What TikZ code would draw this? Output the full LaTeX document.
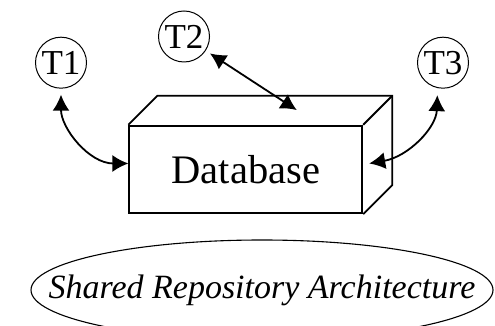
\documentclass[tikz,border=0pt]{standalone}
\usepackage{fontspec}
\setmainfont{Liberation Serif}
\usetikzlibrary{arrows.meta}
\usetikzlibrary{shapes.geometric}

\tikzset{
  term/.style={circle,draw,line width=1pt,minimum size=51pt,inner sep=0pt,
    font=\fontsize{35}{42}\selectfont},
  link/.style={line width=1.8pt,{Latex[length=16pt,width=17pt]}-{Latex[length=16pt,width=17pt]}}
}

\begin{document}
\begin{tikzpicture}[x=1pt,y=1pt]
        \useasboundingbox (0,0) rectangle (495,326);
        % the three terminals
        \node[term] (t1) at (61,263.3) {T1};
        \node[term] (t2) at (184,289.5) {T2};
        \node[term] (t3) at (443,263.3) {T3};
        % database box, front face and its depth
        \node[draw,line width=1.8pt,minimum width=233pt,minimum height=87.6pt,
          inner sep=0pt,font=\fontsize{40.5}{46}\selectfont] (db) at (245.8,156.5) {Database};
        \draw[line width=1.8pt] (db.north west) -- ([shift={(29,29)}]db.north west)
          -- ([shift={(29,29)}]db.north east) -- ([shift={(29,29)}]db.south east)
          -- (db.south east);
        \draw[line width=1.8pt] (db.north east) -- ([shift={(29,29)}]db.north east);
        \coordinate (dbtop) at ([shift={(51,14.7)}]db.north);
        % connectors
        \draw[link,shorten <=6pt] (t1.south) to[out=-90,in=180] ([yshift=6pt]db.west);
        \draw[link,shorten <=5pt] (t2) -- (dbtop);
        \draw[link,shorten <=7pt] (t3.-102) to[out=-92,in=10] ([shift={(6,6)}]db.east);
        % caption
        \node[ellipse,draw,line width=1.1pt,minimum width=462pt,minimum height=100pt,
          inner sep=0pt] (repo) at (262,36) {};
        \node[font=\fontsize{34}{40}\selectfont\itshape] (cap) at (repo.center)
          {Shared Repository Architecture};
\end{tikzpicture}
\end{document}
